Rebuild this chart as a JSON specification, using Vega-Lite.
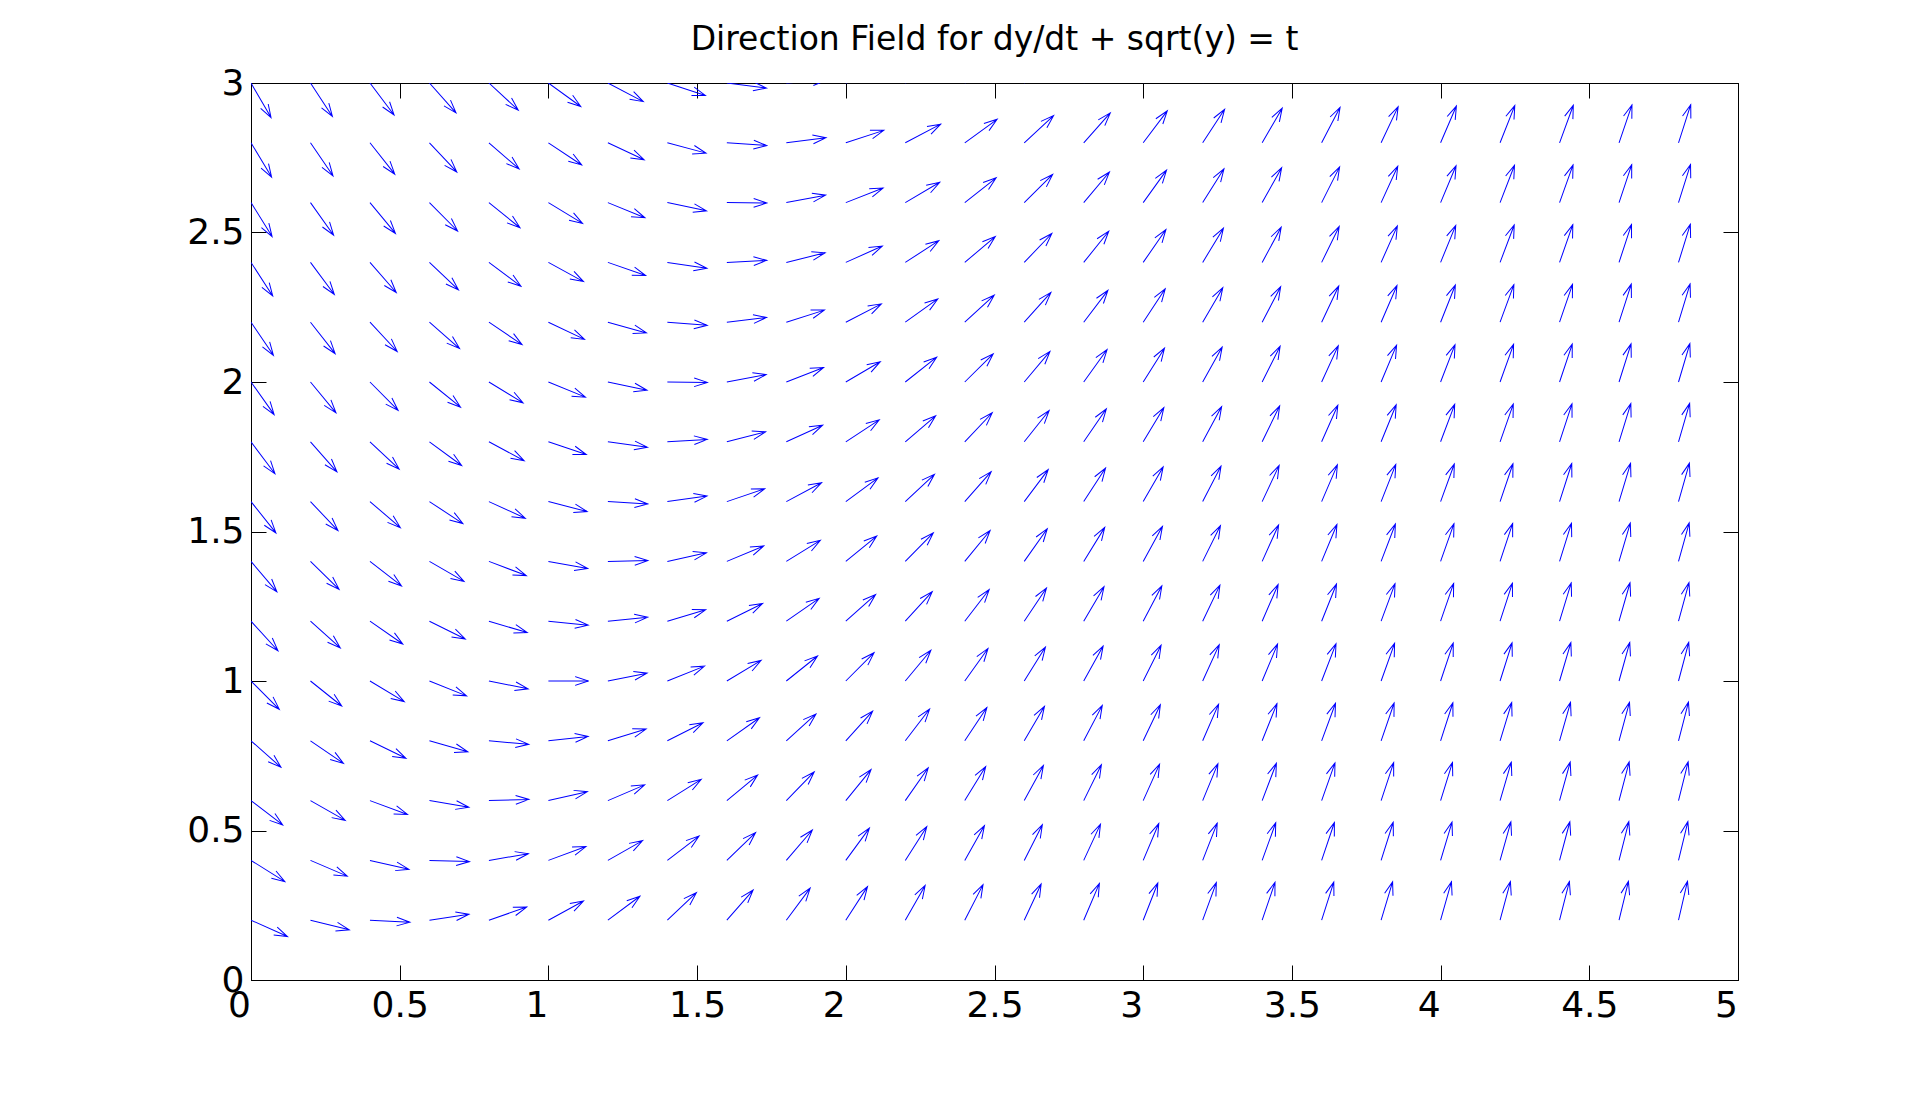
{
"$schema": "https://vega.github.io/schema/vega-lite/v6.json",
"width": 1487,
"height": 897,
"autosize": {"type": "none"},
"padding": {"left": 251, "top": 83, "right": 182, "bottom": 121},
"background": "white",
"title": {"text": "Direction Field for dy/dt + sqrt(y) = t", "font": "DejaVu Sans", "fontSize": 33, "fontWeight": "normal", "color": "black", "anchor": "middle", "frame": "group", "baseline": "alphabetic", "offset": -18},
"config": {"view": {"stroke": "black", "strokeWidth": 1}},
"data": {"values": [
{"t":0,"y":0.2,"s":-0.45},{"t":0.2,"y":0.2,"s":-0.25},{"t":0.4,"y":0.2,"s":-0.05},{"t":0.6,"y":0.2,"s":0.15},{"t":0.8,"y":0.2,"s":0.35},{"t":1,"y":0.2,"s":0.55},{"t":1.2,"y":0.2,"s":0.75},{"t":1.4,"y":0.2,"s":0.95},{"t":1.6,"y":0.2,"s":1.15},{"t":1.8,"y":0.2,"s":1.35},{"t":2,"y":0.2,"s":1.55},{"t":2.2,"y":0.2,"s":1.75},{"t":2.4,"y":0.2,"s":1.95},{"t":2.6,"y":0.2,"s":2.15},{"t":2.8,"y":0.2,"s":2.35},{"t":3,"y":0.2,"s":2.55},{"t":3.2,"y":0.2,"s":2.75},{"t":3.4,"y":0.2,"s":2.95},{"t":3.6,"y":0.2,"s":3.15},{"t":3.8,"y":0.2,"s":3.35},{"t":4,"y":0.2,"s":3.55},{"t":4.2,"y":0.2,"s":3.75},{"t":4.4,"y":0.2,"s":3.95},{"t":4.6,"y":0.2,"s":4.15},{"t":4.8,"y":0.2,"s":4.35},
{"t":0,"y":0.4,"s":-0.63},{"t":0.2,"y":0.4,"s":-0.43},{"t":0.4,"y":0.4,"s":-0.23},{"t":0.6,"y":0.4,"s":-0.03},{"t":0.8,"y":0.4,"s":0.17},{"t":1,"y":0.4,"s":0.37},{"t":1.2,"y":0.4,"s":0.57},{"t":1.4,"y":0.4,"s":0.77},{"t":1.6,"y":0.4,"s":0.97},{"t":1.8,"y":0.4,"s":1.17},{"t":2,"y":0.4,"s":1.37},{"t":2.2,"y":0.4,"s":1.57},{"t":2.4,"y":0.4,"s":1.77},{"t":2.6,"y":0.4,"s":1.97},{"t":2.8,"y":0.4,"s":2.17},{"t":3,"y":0.4,"s":2.37},{"t":3.2,"y":0.4,"s":2.57},{"t":3.4,"y":0.4,"s":2.77},{"t":3.6,"y":0.4,"s":2.97},{"t":3.8,"y":0.4,"s":3.17},{"t":4,"y":0.4,"s":3.37},{"t":4.2,"y":0.4,"s":3.57},{"t":4.4,"y":0.4,"s":3.77},{"t":4.6,"y":0.4,"s":3.97},{"t":4.8,"y":0.4,"s":4.17},
{"t":0,"y":0.6,"s":-0.77},{"t":0.2,"y":0.6,"s":-0.57},{"t":0.4,"y":0.6,"s":-0.37},{"t":0.6,"y":0.6,"s":-0.17},{"t":0.8,"y":0.6,"s":0.03},{"t":1,"y":0.6,"s":0.23},{"t":1.2,"y":0.6,"s":0.43},{"t":1.4,"y":0.6,"s":0.63},{"t":1.6,"y":0.6,"s":0.83},{"t":1.8,"y":0.6,"s":1.03},{"t":2,"y":0.6,"s":1.23},{"t":2.2,"y":0.6,"s":1.43},{"t":2.4,"y":0.6,"s":1.63},{"t":2.6,"y":0.6,"s":1.83},{"t":2.8,"y":0.6,"s":2.03},{"t":3,"y":0.6,"s":2.23},{"t":3.2,"y":0.6,"s":2.43},{"t":3.4,"y":0.6,"s":2.63},{"t":3.6,"y":0.6,"s":2.83},{"t":3.8,"y":0.6,"s":3.03},{"t":4,"y":0.6,"s":3.23},{"t":4.2,"y":0.6,"s":3.43},{"t":4.4,"y":0.6,"s":3.63},{"t":4.6,"y":0.6,"s":3.83},{"t":4.8,"y":0.6,"s":4.03},
{"t":0,"y":0.8,"s":-0.89},{"t":0.2,"y":0.8,"s":-0.69},{"t":0.4,"y":0.8,"s":-0.49},{"t":0.6,"y":0.8,"s":-0.29},{"t":0.8,"y":0.8,"s":-0.09},{"t":1,"y":0.8,"s":0.11},{"t":1.2,"y":0.8,"s":0.31},{"t":1.4,"y":0.8,"s":0.51},{"t":1.6,"y":0.8,"s":0.71},{"t":1.8,"y":0.8,"s":0.91},{"t":2,"y":0.8,"s":1.11},{"t":2.2,"y":0.8,"s":1.31},{"t":2.4,"y":0.8,"s":1.51},{"t":2.6,"y":0.8,"s":1.71},{"t":2.8,"y":0.8,"s":1.91},{"t":3,"y":0.8,"s":2.11},{"t":3.2,"y":0.8,"s":2.31},{"t":3.4,"y":0.8,"s":2.51},{"t":3.6,"y":0.8,"s":2.71},{"t":3.8,"y":0.8,"s":2.91},{"t":4,"y":0.8,"s":3.11},{"t":4.2,"y":0.8,"s":3.31},{"t":4.4,"y":0.8,"s":3.51},{"t":4.6,"y":0.8,"s":3.71},{"t":4.8,"y":0.8,"s":3.91},
{"t":0,"y":1,"s":-1},{"t":0.2,"y":1,"s":-0.8},{"t":0.4,"y":1,"s":-0.6},{"t":0.6,"y":1,"s":-0.4},{"t":0.8,"y":1,"s":-0.2},{"t":1,"y":1,"s":0},{"t":1.2,"y":1,"s":0.2},{"t":1.4,"y":1,"s":0.4},{"t":1.6,"y":1,"s":0.6},{"t":1.8,"y":1,"s":0.8},{"t":2,"y":1,"s":1},{"t":2.2,"y":1,"s":1.2},{"t":2.4,"y":1,"s":1.4},{"t":2.6,"y":1,"s":1.6},{"t":2.8,"y":1,"s":1.8},{"t":3,"y":1,"s":2},{"t":3.2,"y":1,"s":2.2},{"t":3.4,"y":1,"s":2.4},{"t":3.6,"y":1,"s":2.6},{"t":3.8,"y":1,"s":2.8},{"t":4,"y":1,"s":3},{"t":4.2,"y":1,"s":3.2},{"t":4.4,"y":1,"s":3.4},{"t":4.6,"y":1,"s":3.6},{"t":4.8,"y":1,"s":3.8},
{"t":0,"y":1.2,"s":-1.1},{"t":0.2,"y":1.2,"s":-0.9},{"t":0.4,"y":1.2,"s":-0.7},{"t":0.6,"y":1.2,"s":-0.5},{"t":0.8,"y":1.2,"s":-0.3},{"t":1,"y":1.2,"s":-0.1},{"t":1.2,"y":1.2,"s":0.1},{"t":1.4,"y":1.2,"s":0.3},{"t":1.6,"y":1.2,"s":0.5},{"t":1.8,"y":1.2,"s":0.7},{"t":2,"y":1.2,"s":0.9},{"t":2.2,"y":1.2,"s":1.1},{"t":2.4,"y":1.2,"s":1.3},{"t":2.6,"y":1.2,"s":1.5},{"t":2.8,"y":1.2,"s":1.7},{"t":3,"y":1.2,"s":1.9},{"t":3.2,"y":1.2,"s":2.1},{"t":3.4,"y":1.2,"s":2.3},{"t":3.6,"y":1.2,"s":2.5},{"t":3.8,"y":1.2,"s":2.7},{"t":4,"y":1.2,"s":2.9},{"t":4.2,"y":1.2,"s":3.1},{"t":4.4,"y":1.2,"s":3.3},{"t":4.6,"y":1.2,"s":3.5},{"t":4.8,"y":1.2,"s":3.7},
{"t":0,"y":1.4,"s":-1.18},{"t":0.2,"y":1.4,"s":-0.98},{"t":0.4,"y":1.4,"s":-0.78},{"t":0.6,"y":1.4,"s":-0.58},{"t":0.8,"y":1.4,"s":-0.38},{"t":1,"y":1.4,"s":-0.18},{"t":1.2,"y":1.4,"s":0.02},{"t":1.4,"y":1.4,"s":0.22},{"t":1.6,"y":1.4,"s":0.42},{"t":1.8,"y":1.4,"s":0.62},{"t":2,"y":1.4,"s":0.82},{"t":2.2,"y":1.4,"s":1.02},{"t":2.4,"y":1.4,"s":1.22},{"t":2.6,"y":1.4,"s":1.42},{"t":2.8,"y":1.4,"s":1.62},{"t":3,"y":1.4,"s":1.82},{"t":3.2,"y":1.4,"s":2.02},{"t":3.4,"y":1.4,"s":2.22},{"t":3.6,"y":1.4,"s":2.42},{"t":3.8,"y":1.4,"s":2.62},{"t":4,"y":1.4,"s":2.82},{"t":4.2,"y":1.4,"s":3.02},{"t":4.4,"y":1.4,"s":3.22},{"t":4.6,"y":1.4,"s":3.42},{"t":4.8,"y":1.4,"s":3.62},
{"t":0,"y":1.6,"s":-1.26},{"t":0.2,"y":1.6,"s":-1.06},{"t":0.4,"y":1.6,"s":-0.86},{"t":0.6,"y":1.6,"s":-0.66},{"t":0.8,"y":1.6,"s":-0.46},{"t":1,"y":1.6,"s":-0.26},{"t":1.2,"y":1.6,"s":-0.06},{"t":1.4,"y":1.6,"s":0.14},{"t":1.6,"y":1.6,"s":0.34},{"t":1.8,"y":1.6,"s":0.54},{"t":2,"y":1.6,"s":0.74},{"t":2.2,"y":1.6,"s":0.94},{"t":2.4,"y":1.6,"s":1.14},{"t":2.6,"y":1.6,"s":1.34},{"t":2.8,"y":1.6,"s":1.54},{"t":3,"y":1.6,"s":1.74},{"t":3.2,"y":1.6,"s":1.94},{"t":3.4,"y":1.6,"s":2.14},{"t":3.6,"y":1.6,"s":2.34},{"t":3.8,"y":1.6,"s":2.54},{"t":4,"y":1.6,"s":2.74},{"t":4.2,"y":1.6,"s":2.94},{"t":4.4,"y":1.6,"s":3.14},{"t":4.6,"y":1.6,"s":3.34},{"t":4.8,"y":1.6,"s":3.54},
{"t":0,"y":1.8,"s":-1.34},{"t":0.2,"y":1.8,"s":-1.14},{"t":0.4,"y":1.8,"s":-0.94},{"t":0.6,"y":1.8,"s":-0.74},{"t":0.8,"y":1.8,"s":-0.54},{"t":1,"y":1.8,"s":-0.34},{"t":1.2,"y":1.8,"s":-0.14},{"t":1.4,"y":1.8,"s":0.06},{"t":1.6,"y":1.8,"s":0.26},{"t":1.8,"y":1.8,"s":0.46},{"t":2,"y":1.8,"s":0.66},{"t":2.2,"y":1.8,"s":0.86},{"t":2.4,"y":1.8,"s":1.06},{"t":2.6,"y":1.8,"s":1.26},{"t":2.8,"y":1.8,"s":1.46},{"t":3,"y":1.8,"s":1.66},{"t":3.2,"y":1.8,"s":1.86},{"t":3.4,"y":1.8,"s":2.06},{"t":3.6,"y":1.8,"s":2.26},{"t":3.8,"y":1.8,"s":2.46},{"t":4,"y":1.8,"s":2.66},{"t":4.2,"y":1.8,"s":2.86},{"t":4.4,"y":1.8,"s":3.06},{"t":4.6,"y":1.8,"s":3.26},{"t":4.8,"y":1.8,"s":3.46},
{"t":0,"y":2,"s":-1.41},{"t":0.2,"y":2,"s":-1.21},{"t":0.4,"y":2,"s":-1.01},{"t":0.6,"y":2,"s":-0.81},{"t":0.8,"y":2,"s":-0.61},{"t":1,"y":2,"s":-0.41},{"t":1.2,"y":2,"s":-0.21},{"t":1.4,"y":2,"s":-0.01},{"t":1.6,"y":2,"s":0.19},{"t":1.8,"y":2,"s":0.39},{"t":2,"y":2,"s":0.59},{"t":2.2,"y":2,"s":0.79},{"t":2.4,"y":2,"s":0.99},{"t":2.6,"y":2,"s":1.19},{"t":2.8,"y":2,"s":1.39},{"t":3,"y":2,"s":1.59},{"t":3.2,"y":2,"s":1.79},{"t":3.4,"y":2,"s":1.99},{"t":3.6,"y":2,"s":2.19},{"t":3.8,"y":2,"s":2.39},{"t":4,"y":2,"s":2.59},{"t":4.2,"y":2,"s":2.79},{"t":4.4,"y":2,"s":2.99},{"t":4.6,"y":2,"s":3.19},{"t":4.8,"y":2,"s":3.39},
{"t":0,"y":2.2,"s":-1.48},{"t":0.2,"y":2.2,"s":-1.28},{"t":0.4,"y":2.2,"s":-1.08},{"t":0.6,"y":2.2,"s":-0.88},{"t":0.8,"y":2.2,"s":-0.68},{"t":1,"y":2.2,"s":-0.48},{"t":1.2,"y":2.2,"s":-0.28},{"t":1.4,"y":2.2,"s":-0.08},{"t":1.6,"y":2.2,"s":0.12},{"t":1.8,"y":2.2,"s":0.32},{"t":2,"y":2.2,"s":0.52},{"t":2.2,"y":2.2,"s":0.72},{"t":2.4,"y":2.2,"s":0.92},{"t":2.6,"y":2.2,"s":1.12},{"t":2.8,"y":2.2,"s":1.32},{"t":3,"y":2.2,"s":1.52},{"t":3.2,"y":2.2,"s":1.72},{"t":3.4,"y":2.2,"s":1.92},{"t":3.6,"y":2.2,"s":2.12},{"t":3.8,"y":2.2,"s":2.32},{"t":4,"y":2.2,"s":2.52},{"t":4.2,"y":2.2,"s":2.72},{"t":4.4,"y":2.2,"s":2.92},{"t":4.6,"y":2.2,"s":3.12},{"t":4.8,"y":2.2,"s":3.32},
{"t":0,"y":2.4,"s":-1.55},{"t":0.2,"y":2.4,"s":-1.35},{"t":0.4,"y":2.4,"s":-1.15},{"t":0.6,"y":2.4,"s":-0.95},{"t":0.8,"y":2.4,"s":-0.75},{"t":1,"y":2.4,"s":-0.55},{"t":1.2,"y":2.4,"s":-0.35},{"t":1.4,"y":2.4,"s":-0.15},{"t":1.6,"y":2.4,"s":0.05},{"t":1.8,"y":2.4,"s":0.25},{"t":2,"y":2.4,"s":0.45},{"t":2.2,"y":2.4,"s":0.65},{"t":2.4,"y":2.4,"s":0.85},{"t":2.6,"y":2.4,"s":1.05},{"t":2.8,"y":2.4,"s":1.25},{"t":3,"y":2.4,"s":1.45},{"t":3.2,"y":2.4,"s":1.65},{"t":3.4,"y":2.4,"s":1.85},{"t":3.6,"y":2.4,"s":2.05},{"t":3.8,"y":2.4,"s":2.25},{"t":4,"y":2.4,"s":2.45},{"t":4.2,"y":2.4,"s":2.65},{"t":4.4,"y":2.4,"s":2.85},{"t":4.6,"y":2.4,"s":3.05},{"t":4.8,"y":2.4,"s":3.25},
{"t":0,"y":2.6,"s":-1.61},{"t":0.2,"y":2.6,"s":-1.41},{"t":0.4,"y":2.6,"s":-1.21},{"t":0.6,"y":2.6,"s":-1.01},{"t":0.8,"y":2.6,"s":-0.81},{"t":1,"y":2.6,"s":-0.61},{"t":1.2,"y":2.6,"s":-0.41},{"t":1.4,"y":2.6,"s":-0.21},{"t":1.6,"y":2.6,"s":-0.01},{"t":1.8,"y":2.6,"s":0.19},{"t":2,"y":2.6,"s":0.39},{"t":2.2,"y":2.6,"s":0.59},{"t":2.4,"y":2.6,"s":0.79},{"t":2.6,"y":2.6,"s":0.99},{"t":2.8,"y":2.6,"s":1.19},{"t":3,"y":2.6,"s":1.39},{"t":3.2,"y":2.6,"s":1.59},{"t":3.4,"y":2.6,"s":1.79},{"t":3.6,"y":2.6,"s":1.99},{"t":3.8,"y":2.6,"s":2.19},{"t":4,"y":2.6,"s":2.39},{"t":4.2,"y":2.6,"s":2.59},{"t":4.4,"y":2.6,"s":2.79},{"t":4.6,"y":2.6,"s":2.99},{"t":4.8,"y":2.6,"s":3.19},
{"t":0,"y":2.8,"s":-1.67},{"t":0.2,"y":2.8,"s":-1.47},{"t":0.4,"y":2.8,"s":-1.27},{"t":0.6,"y":2.8,"s":-1.07},{"t":0.8,"y":2.8,"s":-0.87},{"t":1,"y":2.8,"s":-0.67},{"t":1.2,"y":2.8,"s":-0.47},{"t":1.4,"y":2.8,"s":-0.27},{"t":1.6,"y":2.8,"s":-0.07},{"t":1.8,"y":2.8,"s":0.13},{"t":2,"y":2.8,"s":0.33},{"t":2.2,"y":2.8,"s":0.53},{"t":2.4,"y":2.8,"s":0.73},{"t":2.6,"y":2.8,"s":0.93},{"t":2.8,"y":2.8,"s":1.13},{"t":3,"y":2.8,"s":1.33},{"t":3.2,"y":2.8,"s":1.53},{"t":3.4,"y":2.8,"s":1.73},{"t":3.6,"y":2.8,"s":1.93},{"t":3.8,"y":2.8,"s":2.13},{"t":4,"y":2.8,"s":2.33},{"t":4.2,"y":2.8,"s":2.53},{"t":4.4,"y":2.8,"s":2.73},{"t":4.6,"y":2.8,"s":2.93},{"t":4.8,"y":2.8,"s":3.13},
{"t":0,"y":3,"s":-1.73},{"t":0.2,"y":3,"s":-1.53},{"t":0.4,"y":3,"s":-1.33},{"t":0.6,"y":3,"s":-1.13},{"t":0.8,"y":3,"s":-0.93},{"t":1,"y":3,"s":-0.73},{"t":1.2,"y":3,"s":-0.53},{"t":1.4,"y":3,"s":-0.33},{"t":1.6,"y":3,"s":-0.13},{"t":1.8,"y":3,"s":0.07},{"t":2,"y":3,"s":0.27},{"t":2.2,"y":3,"s":0.47},{"t":2.4,"y":3,"s":0.67},{"t":2.6,"y":3,"s":0.87},{"t":2.8,"y":3,"s":1.07},{"t":3,"y":3,"s":1.27},{"t":3.2,"y":3,"s":1.47},{"t":3.4,"y":3,"s":1.67},{"t":3.6,"y":3,"s":1.87},{"t":3.8,"y":3,"s":2.07},{"t":4,"y":3,"s":2.27},{"t":4.2,"y":3,"s":2.47},{"t":4.4,"y":3,"s":2.67},{"t":4.6,"y":3,"s":2.87},{"t":4.8,"y":3,"s":3.07}
]},
"layer": [
{
"mark": {"type": "point", "shape": "M0,0L1,0M0.67,-0.109L1,0L0.67,0.109", "filled": false, "stroke": "#0000ff", "strokeWidth": 1, "size": 6400, "opacity": 1, "clip": true},
"encoding": {
"x": {"field": "t", "type": "quantitative", "scale": {"domain": [0, 5], "nice": false, "zero": false},
 "axis": {"orient": "bottom", "title": null, "values": [0,0.5,1,1.5,2,2.5,3,3.5,4,4.5,5], "format": "~g", "grid": false, "tickSize": -15, "tickColor": "black", "tickWidth": 1, "domainColor": "black", "domainWidth": 1, "labelFont": "DejaVu Sans", "labelFontSize": 36, "labelColor": "black", "labelPadding": 23, "labelFlush": false, "labelOverlap": false, "labelBound": false, "labelOffset": {"condition": {"test": "datum.value % 1 === 0", "value": -12}, "value": 0}}},
"y": {"field": "y", "type": "quantitative", "scale": {"domain": [0, 3], "nice": false, "zero": false},
 "axis": {"orient": "left", "title": null, "values": [0,0.5,1,1.5,2,2.5,3], "format": "~g", "grid": false, "tickSize": -15, "tickColor": "black", "tickWidth": 1, "domainColor": "black", "domainWidth": 1, "labelFont": "DejaVu Sans", "labelFontSize": 36, "labelColor": "black", "labelPadding": 22, "labelFlush": false, "labelOverlap": false, "labelBound": false}},
"angle": {"field": "s", "type": "quantitative", "legend": null,
 "scale": {"type": "linear", "domain": [-1.8,-1.6,-1.4,-1.2,-1,-0.8,-0.6,-0.4,-0.2,0,0.2,0.4,0.6,0.8,1,1.2,1.4,1.6,1.8,2,2.25,2.5,2.75,3,3.5,4,4.5,5],
 "range": [60.95,57.99,54.46,50.19,45,38.66,30.96,21.8,11.31,0,-11.31,-21.8,-30.96,-38.66,-45,-50.19,-54.46,-57.99,-60.95,-63.43,-66.04,-68.2,-70.02,-71.57,-74.05,-75.96,-77.47,-78.69]}}
}
},
{
"mark": {"type": "point", "opacity": 0},
"encoding": {
"x": {"field": "t", "type": "quantitative", "axis": {"orient": "top", "title": null, "values": [0,0.5,1,1.5,2,2.5,3,3.5,4,4.5,5], "grid": false, "labels": false, "tickSize": -15, "tickColor": "black", "tickWidth": 1, "domainColor": "black", "domainWidth": 1}},
"y": {"field": "y", "type": "quantitative", "axis": {"orient": "right", "title": null, "values": [0,0.5,1,1.5,2,2.5,3], "grid": false, "labels": false, "tickSize": -15, "tickColor": "black", "tickWidth": 1, "domainColor": "black", "domainWidth": 1}}
}
}
],
"resolve": {"axis": {"x": "independent", "y": "independent"}}
}
